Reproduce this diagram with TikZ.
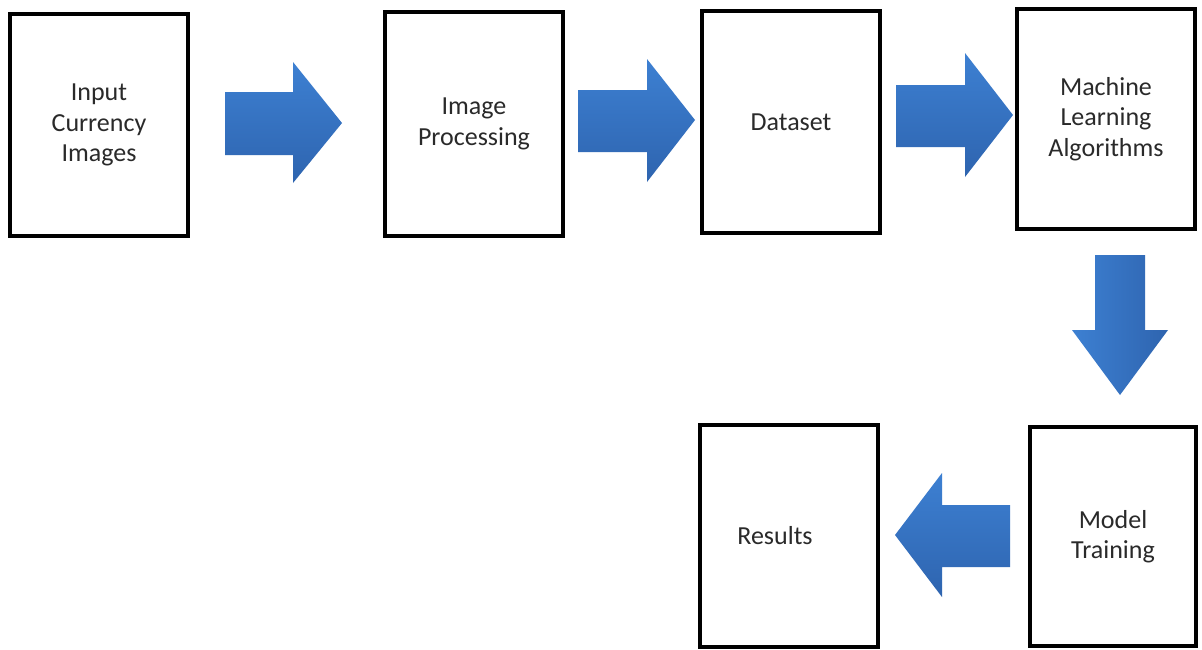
\documentclass[tikz,border=0pt]{standalone}
\usepackage{fontspec}
\setmainfont{Carlito}
\definecolor{txt}{HTML}{2A2A2A}
\definecolor{blueA}{HTML}{3D80D2}
\definecolor{blueB}{HTML}{2E64AF}
\tikzset{
  box/.style={draw=black, line width=3.6pt, fill=white, inner sep=0pt, align=center,
    text=txt, font=\fontsize{26}{30.5}\selectfont},
  barrow/.style={top color=blueA, bottom color=blueB, draw=none},
  barrowv/.style={left color=blueA, right color=blueB, draw=none}
}
\begin{document}
\begin{tikzpicture}[x=1pt,y=-1pt]
\useasboundingbox (0,0) rectangle (1202,649);
\fill[white] (0,0) rectangle (1202,649);
% boxes
\node[box, minimum width=178pt, minimum height=222pt] (b1) at (99,125) {Input\\Currency\\Images};
\node[box, minimum width=178pt, minimum height=224pt] (b2) at (474,124) {Image\\Processing};
\node[box, minimum width=178pt, minimum height=222pt] (b3) at (791,122) {Dataset};
\node[box, minimum width=178pt, minimum height=220pt] (b4) at (1106,119) {Machine\\Learning\\Algorithms};
\node[box, minimum width=166pt, minimum height=219pt] (b5) at (1113,536.5) {Model\\Training};
\node[box, minimum width=178pt, minimum height=222pt] (b6) at (789,536) {Results\hspace*{28pt}};
% block arrows
\path[barrow] (225,92) -- (293,92) -- (293,62) -- (342,123) -- (293,183) -- (293,155) -- (225,155) -- cycle;
\path[barrow] (578,90) -- (647,90) -- (647,59) -- (695,120) -- (647,182) -- (647,152) -- (578,152) -- cycle;
\path[barrow] (896,85) -- (965,85) -- (965,53) -- (1013,115) -- (965,177) -- (965,147) -- (896,147) -- cycle;
\path[barrowv] (1095,255) -- (1145,255) -- (1145,330) -- (1168,330) -- (1120,395) -- (1072,330) -- (1095,330) -- cycle;
\path[barrow] (1010,505) -- (942,505) -- (942,473) -- (895,535) -- (942,597) -- (942,567) -- (1010,567) -- cycle;
\end{tikzpicture}
\end{document}
